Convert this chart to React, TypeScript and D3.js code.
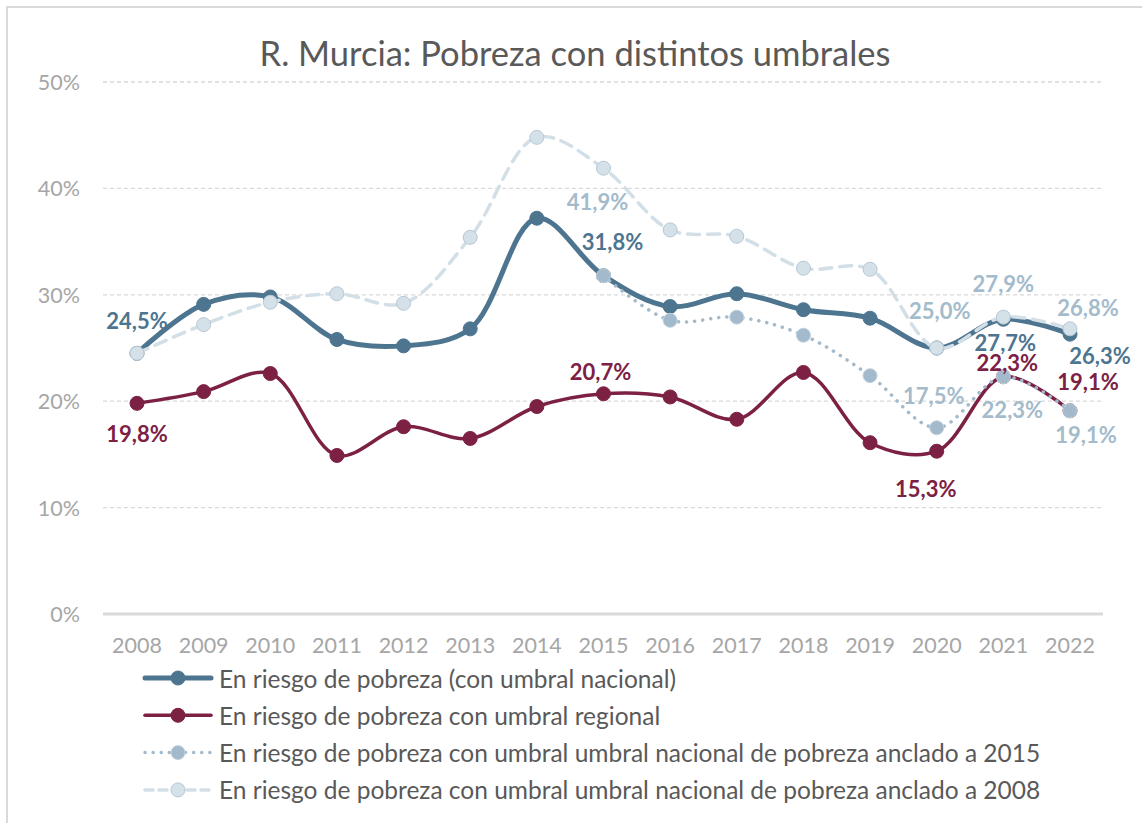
import React from 'react';
import { scaleLinear, scalePoint, line, curveCatmullRom } from 'd3';

const years = ['2008', '2009', '2010', '2011', '2012', '2013', '2014', '2015', '2016', '2017', '2018', '2019', '2020', '2021', '2022'];
const nacional = [24.5, 29.1, 29.8, 25.8, 25.2, 26.8, 37.2, 31.8, 28.9, 30.1, 28.6, 27.8, 25.0, 27.7, 26.3];
const regional = [19.8, 20.9, 22.6, 14.9, 17.6, 16.5, 19.5, 20.7, 20.4, 18.3, 22.7, 16.1, 15.3, 22.3, 19.1];
const anclado2015 = [null, null, null, null, null, null, null, 31.8, 27.6, 27.9, 26.2, 22.4, 17.5, 22.3, 19.1];
const anclado2008 = [24.5, 27.2, 29.3, 30.1, 29.2, 35.4, 44.8, 41.9, 36.1, 35.5, 32.5, 32.4, 25.0, 27.9, 26.8];
const yTicks = [0, 10, 20, 30, 40, 50];

const title = 'R. Murcia: Pobreza con distintos umbrales';
const font = 'Lato, Carlito, Calibri, sans-serif';

type Label = { i: number; dx: number; dy: number };
type Series = {
  name: string;
  values: (number | null)[];
  color: string;
  labelColor: string;
  width: number;
  dash?: string;
  legendDash?: string;
  markerFill: string;
  markerStroke: string;
  labels: Label[];
};

const series: Series[] = [
  {
    name: 'En riesgo de pobreza (con umbral nacional)',
    values: nacional,
    color: '#4d7590',
    labelColor: '#4d7590',
    width: 5,
    markerFill: '#4d7590',
    markerStroke: '#4d7590',
    labels: [
      { i: 0, dx: 0, dy: -33 },
      { i: 7, dx: 9, dy: -34 },
      { i: 13, dx: 2, dy: 23 },
      { i: 14, dx: 30, dy: 21 },
    ],
  },
  {
    name: 'En riesgo de pobreza con umbral regional',
    values: regional,
    color: '#7c2144',
    labelColor: '#7c2144',
    width: 3.5,
    markerFill: '#7c2144',
    markerStroke: '#7c2144',
    labels: [
      { i: 0, dx: 0, dy: 30 },
      { i: 7, dx: -3, dy: -22 },
      { i: 12, dx: -11, dy: 37 },
      { i: 13, dx: 4, dy: -14 },
      { i: 14, dx: 18, dy: -29 },
    ],
  },
  {
    name: 'En riesgo de pobreza con umbral umbral nacional de pobreza anclado a 2015',
    values: anclado2015,
    color: '#a2bacb',
    labelColor: '#a3bbcb',
    width: 3.5,
    dash: '0.1 8',
    legendDash: '0.1 8',
    markerFill: '#a2bacb',
    markerStroke: '#c3d2dc',
    labels: [
      { i: 12, dx: -3, dy: -32 },
      { i: 13, dx: 9, dy: 33 },
      { i: 14, dx: 16, dy: 24 },
    ],
  },
  {
    name: 'En riesgo de pobreza con umbral umbral nacional de pobreza anclado a 2008',
    values: anclado2008,
    color: '#d3dfe7',
    labelColor: '#a3bbcb',
    width: 3.5,
    dash: '12 8',
    legendDash: '8 6',
    markerFill: '#d5e1e9',
    markerStroke: '#b7c8d3',
    labels: [
      { i: 7, dx: -6, dy: 33 },
      { i: 12, dx: 3, dy: -38 },
      { i: 13, dx: 0, dy: -34 },
      { i: 14, dx: 18, dy: -21 },
    ],
  },
];

const W = 1142;
const H = 823;

export default function App() {
  const x = scalePoint<string>().domain(years).range([137, 1070]);
  const y = scaleLinear().domain([0, 50]).range([614, 82]);
  const fmt = (v: number) => v.toFixed(1).replace('.', ',') + '%';

  const path = line<number | null>()
    .defined(d => d != null)
    .x((_d, i) => x(years[i]) as number)
    .y(d => y(d as number))
    .curve(curveCatmullRom.alpha(0.5));

  return (
    <svg
      width={W}
      height={H}
      style={{ position: 'absolute', left: 0, top: 0, background: '#fff' }}
      fontFamily={font}
    >
      <rect x={7} y={7} width={1160} height={840} fill="#fff" stroke="#d9d9d9" strokeWidth={2} />
      <text x={575} y={52} textAnchor="middle" dominantBaseline="central" fontSize={34.5} fill="#595959">
        {title}
      </text>

      {yTicks.map(t => (
        <g key={t}>
          {t > 0 && (
            <line x1={103} x2={1103} y1={y(t)} y2={y(t)} stroke="#d9d9d9" strokeWidth={1.3} strokeDasharray="4 3" />
          )}
          <text x={80} y={y(t)} textAnchor="end" dominantBaseline="central" fontSize={21.5} fill="#a6a6a6">
            {t}%
          </text>
        </g>
      ))}
      <line x1={103} x2={1103} y1={y(0)} y2={y(0)} stroke="#d9d9d9" strokeWidth={3} />
      {years.map(yr => (
        <text key={yr} x={x(yr)} y={645} textAnchor="middle" dominantBaseline="central" fontSize={21.5} fill="#a6a6a6">
          {yr}
        </text>
      ))}

      {series.map(s => (
        <g key={s.name}>
          <path
            d={path(s.values) ?? ''}
            fill="none"
            stroke={s.color}
            strokeWidth={s.width}
            strokeDasharray={s.dash}
            strokeLinecap="round"
          />
          {s.values.map((v, i) =>
            v == null ? null : (
              <circle key={i} cx={x(years[i])} cy={y(v)} r={7} fill={s.markerFill} stroke={s.markerStroke} strokeWidth={1} />
            ),
          )}
        </g>
      ))}

      {series.map(s =>
        s.labels.map(l => {
          const v = s.values[l.i] as number;
          return (
            <text
              key={s.name + l.i}
              x={(x(years[l.i]) as number) + l.dx}
              y={y(v) + l.dy}
              textAnchor="middle"
              dominantBaseline="central"
              fontSize={22}
              fontWeight="bold"
              fill={s.labelColor}
            >
              {fmt(v)}
            </text>
          );
        }),
      )}

      {series.map((s, k) => {
        const cy = 678 + k * 37.3;
        return (
          <g key={'leg' + s.name}>
            <line
              x1={145}
              x2={211}
              y1={cy}
              y2={cy}
              stroke={s.color}
              strokeWidth={s.width}
              strokeDasharray={s.legendDash}
              strokeLinecap="round"
            />
            <circle cx={178} cy={cy} r={7} fill={s.markerFill} stroke={s.markerStroke} strokeWidth={1} />
            <text x={219} y={cy} dominantBaseline="central" fontSize={24.5} fill="#595959">
              {s.name}
            </text>
          </g>
        );
      })}
    </svg>
  );
}
